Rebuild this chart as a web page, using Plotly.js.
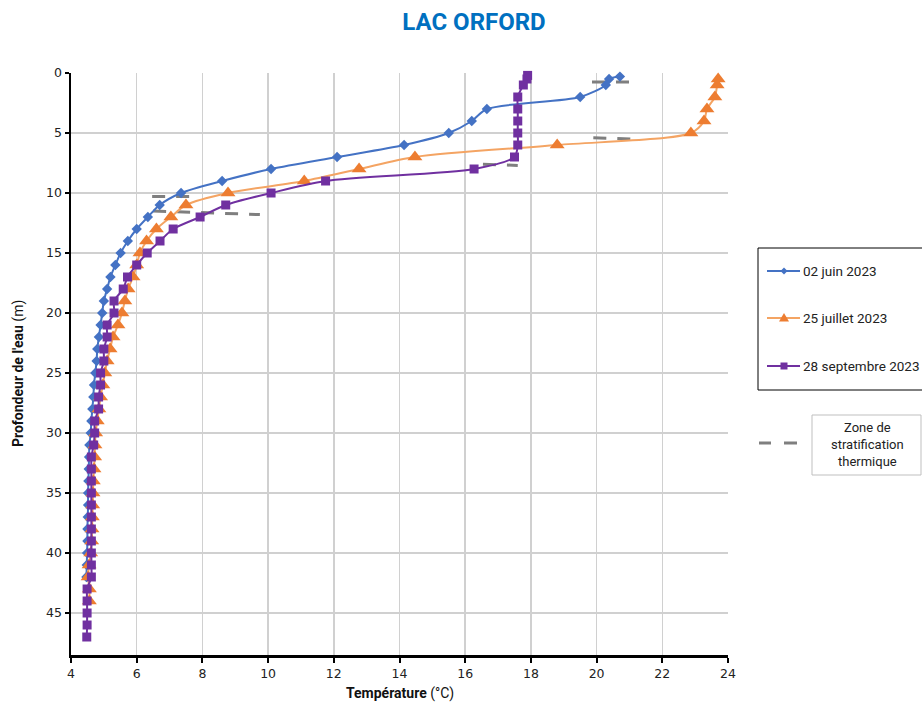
<!DOCTYPE html>
<html><head><meta charset="utf-8">
<script src="https://cdn.plot.ly/plotly-3.0.1.min.js"></script>
<style>html,body{margin:0;padding:0;background:#fff}#chart{width:922px;height:706px}</style>
</head><body><div id="chart"></div>
<script>
// ---- Data ----
const depthJuin = [0.3,0.5,1,2,3,4,5,6,7,8,9,10,11,12,13,14,15,16,17,18,19,20,21,22,23,24,25,26,27,28,29,30,31,32,33,34,35,36,37,38,39,40,41,42];
const tempJuin  = [20.71,20.38,20.28,19.5,16.66,16.2,15.5,14.14,12.1,10.09,8.6,7.35,6.7,6.34,6.0,5.73,5.51,5.35,5.2,5.1,5.0,4.95,4.9,4.85,4.8,4.78,4.74,4.7,4.68,4.65,4.62,4.6,4.56,4.55,4.54,4.53,4.52,4.52,4.51,4.5,4.5,4.49,4.48,4.47];

const depthJuillet = [0.5,1,2,3,4,5,6,7,8,9,10,11,12,13,14,15,16,17,18,19,20,21,22,23,24,25,26,27,28,29,30,31,32,33,34,35,36,37,38,39,40,41,42,43,44];
const tempJuillet  = [23.7,23.67,23.6,23.36,23.27,22.87,18.8,14.47,12.77,11.1,8.78,7.5,7.04,6.6,6.3,6.1,6.0,5.89,5.74,5.64,5.55,5.43,5.28,5.19,5.1,5.03,4.97,4.9,4.85,4.8,4.75,4.73,4.72,4.7,4.68,4.67,4.66,4.65,4.64,4.63,4.6,4.55,4.52,4.56,4.56];

const depthSept = [0.2,0.5,1,2,3,4,5,6,7,8,9,10,11,12,13,14,15,16,17,18,19,20,21,22,23,24,25,26,27,28,29,30,31,32,33,34,35,36,37,38,39,40,41,42,43,44,45,46,47];
const tempSept  = [17.9,17.88,17.77,17.6,17.6,17.6,17.6,17.6,17.5,16.27,11.75,10.09,8.71,7.93,7.11,6.71,6.32,6.0,5.72,5.59,5.31,5.31,5.1,5.1,5.0,5.0,4.9,4.9,4.84,4.84,4.72,4.72,4.69,4.62,4.62,4.62,4.62,4.62,4.62,4.62,4.62,4.62,4.62,4.62,4.49,4.49,4.49,4.49,4.48];

// stratification zone segments (temperature, depth), null separates segments
const stratTemp  = [19.86,20.99,null,6.47,7.62,null,19.9,21.05,null,6.5,9.75,null,16.54,17.6];
const stratDepth = [0.75,0.75,null,10.3,10.3,null,5.4,5.5,null,11.5,11.8,null,7.6,7.7];

const seriesNames = ['02 juin 2023','25 juillet 2023','28 septembre 2023'];
const stratLabel = ['Zone de','stratification','thermique'];
const xTicks = [4,6,8,10,12,14,16,18,20,22,24];
const yTicks = [0,5,10,15,20,25,30,35,40,45];

// ---- Layout helpers (pixel -> paper) ----
const L=71,R=728,T=73,B=655;
const fx = p => (p-L)/(R-L);
const fy = p => (B-p)/(B-T);

const colBlue='#4472C4', colOrLine='#F4A463', colOrMk='#ED7D31', colPur='#7030A0', colGray='#7F7F7F';

const traces = [
  {x:stratTemp, y:stratDepth, mode:'lines', connectgaps:false, line:{color:colGray,width:3,dash:'13px,11px'}, hoverinfo:'skip', showlegend:false},
  {x:tempJuin, y:depthJuin, name:seriesNames[0], mode:'lines+markers', cliponaxis:false,
   line:{color:colBlue,width:2,shape:'spline',smoothing:0.8}, marker:{symbol:'diamond',size:8,color:colBlue}},
  {x:tempJuillet, y:depthJuillet, name:seriesNames[1], mode:'lines+markers', cliponaxis:false,
   line:{color:colOrLine,width:2,shape:'spline',smoothing:0.8}, marker:{symbol:'triangle-up',size:13,color:colOrMk}},
  {x:tempSept, y:depthSept, name:seriesNames[2], mode:'lines+markers', cliponaxis:false,
   line:{color:colPur,width:2,shape:'spline',smoothing:0.8}, marker:{symbol:'square',size:9,color:colPur}}
];

const shapes = [];
const annotations = [];
// legend box
shapes.push({type:'rect',xref:'paper',yref:'paper',x0:fx(758),x1:fx(945),y0:fy(248),y1:fy(390),line:{color:'#000',width:1},fillcolor:'rgba(0,0,0,0)'});
const legY=[271,318,366];
const lineCols=[colBlue,colOrLine,colPur];
for(let i=0;i<3;i++){
  shapes.push({type:'line',xref:'paper',yref:'paper',x0:fx(767),x1:fx(800),y0:fy(legY[i]),y1:fy(legY[i]),line:{color:lineCols[i],width:2}});
  annotations.push({xref:'paper',yref:'paper',x:fx(801),y:fy(legY[i]),xanchor:'left',yanchor:'middle',showarrow:false,
    text:seriesNames[i],font:{family:'Roboto, Arial, sans-serif',size:13.5,color:'#222'}});
}
// legend markers
const cx=784;
const path = pts => 'M'+pts.map(p=>fx(p[0])+','+fy(p[1])).join(' L')+' Z';
shapes.push({type:'path',xref:'paper',yref:'paper',path:path([[cx,legY[0]-3.5],[cx+3.5,legY[0]],[cx,legY[0]+3.5],[cx-3.5,legY[0]]]),fillcolor:colBlue,line:{width:0}});
shapes.push({type:'path',xref:'paper',yref:'paper',path:path([[cx,legY[1]-5],[cx+5,legY[1]+3.5],[cx-5,legY[1]+3.5]]),fillcolor:colOrMk,line:{width:0}});
shapes.push({type:'path',xref:'paper',yref:'paper',path:path([[cx-3.5,legY[2]-3.5],[cx+3.5,legY[2]-3.5],[cx+3.5,legY[2]+3.5],[cx-3.5,legY[2]+3.5]]),fillcolor:colPur,line:{width:0}});
// zone box
shapes.push({type:'rect',xref:'paper',yref:'paper',x0:fx(812),x1:fx(921),y0:fy(415),y1:fy(475),line:{color:'#BFBFBF',width:1},fillcolor:'rgba(0,0,0,0)'});
shapes.push({type:'line',xref:'paper',yref:'paper',x0:fx(759),x1:fx(771),y0:fy(443),y1:fy(443),line:{color:colGray,width:3}});
shapes.push({type:'line',xref:'paper',yref:'paper',x0:fx(784),x1:fx(797),y0:fy(443),y1:fy(443),line:{color:colGray,width:3}});
annotations.push({xref:'paper',yref:'paper',x:fx(867),y:fy(444),xanchor:'center',yanchor:'middle',showarrow:false,align:'center',
  text:stratLabel.join('<br>'),font:{family:'Roboto, Arial, sans-serif',size:13,color:'#222'}});
// axis titles
annotations.push({xref:'paper',yref:'paper',x:fx(400),y:fy(693),xanchor:'center',yanchor:'middle',showarrow:false,
  text:'<b>Température</b> (°C)',font:{family:'Roboto, Arial, sans-serif',size:14,color:'#111'}});
annotations.push({xref:'paper',yref:'paper',x:fx(19),y:fy(374),xanchor:'center',yanchor:'middle',showarrow:false,textangle:-90,
  text:"<b>Profondeur de l'eau</b> (m)",font:{family:'Roboto, Arial, sans-serif',size:14,color:'#111'}});

const layout = {
  width:922,height:706,
  margin:{l:L,r:922-R,t:T,b:706-B,pad:0},
  paper_bgcolor:'#fff',plot_bgcolor:'#fff',
  showlegend:false,
  title:{text:'<b>LAC ORFORD</b>',x:474/922,xanchor:'center',y:1-22/706,yanchor:'middle',
    font:{family:'Roboto, Arial, sans-serif',size:24,color:'#0070C0'}},
  xaxis:{range:[4,24],tickvals:xTicks,ticktext:xTicks.map(String),showgrid:true,gridcolor:'#D0D0D0',gridwidth:1.5,
    zeroline:false,showline:true,linecolor:'#000',linewidth:2.5,ticks:'outside',ticklen:5,tickwidth:2,tickcolor:'#000',
    tickfont:{family:'DejaVu Sans, Verdana, sans-serif',size:12.5,color:'#222'}},
  yaxis:{range:[48.5,0],tickvals:yTicks,ticktext:yTicks.map(String),showgrid:true,gridcolor:'#D0D0D0',gridwidth:1.5,
    zeroline:false,showline:true,linecolor:'#000',linewidth:2.5,ticks:'outside',ticklen:4,tickwidth:2,tickcolor:'#000',
    tickfont:{family:'DejaVu Sans, Verdana, sans-serif',size:12.5,color:'#222'}},
  shapes:shapes,annotations:annotations
};
Plotly.newPlot('chart',traces,layout,{displayModeBar:false,staticPlot:true});
</script></body></html>
